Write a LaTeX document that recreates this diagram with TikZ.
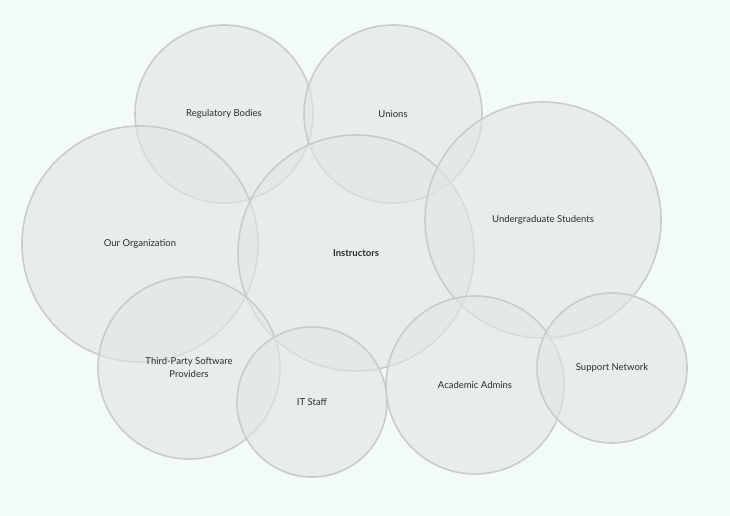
\documentclass[tikz,border=0pt]{standalone}
\usepackage{fontspec}
\setmainfont{Lato}
\usetikzlibrary{positioning}
\definecolor{bgmint}{HTML}{F3FBF7}
\definecolor{ringfill}{HTML}{E2E5E3}
\definecolor{ringdraw}{HTML}{CACCCB}
\definecolor{labeltext}{HTML}{2B2B2B}

\begin{document}
\begin{tikzpicture}[x=1pt,y=-1pt,
        party/.style={circle,draw=ringdraw,line width=1.6pt,fill=ringfill,fill opacity=0.6,
          text opacity=1,text=labeltext,align=center,font=\fontsize{9.5}{13}\selectfont,inner sep=0pt},
        core/.style={party,font=\fontsize{9.5}{13}\selectfont\bfseries}]

    \fill[bgmint] (0,0) rectangle (730,516);
    \useasboundingbox (0,0) rectangle (730,516);

    \node[party,minimum size=178] (reg)   at (224,114) {Regulatory Bodies};
    \node[party,minimum size=178] (union) at (393,114) {Unions};
    \node[party,minimum size=236] (org)   at (140,244) {Our Organization};
    \node[core, minimum size=236] (inst)  at (356,253) {Instructors};
    \node[party,minimum size=236] (ugrad) at (543,220) {Undergraduate Students};
    \node[party,minimum size=182] (third) at (189,368) {Third-Party Software\\Providers};
    \node[party,minimum size=150] (it)    at (312,402) {IT Staff};
    \node[party,minimum size=178] (acad)  at (475,385) {Academic Admins};
    \node[party,minimum size=150] (supp)  at (612,368) {Support Network};
\end{tikzpicture}
\end{document}
